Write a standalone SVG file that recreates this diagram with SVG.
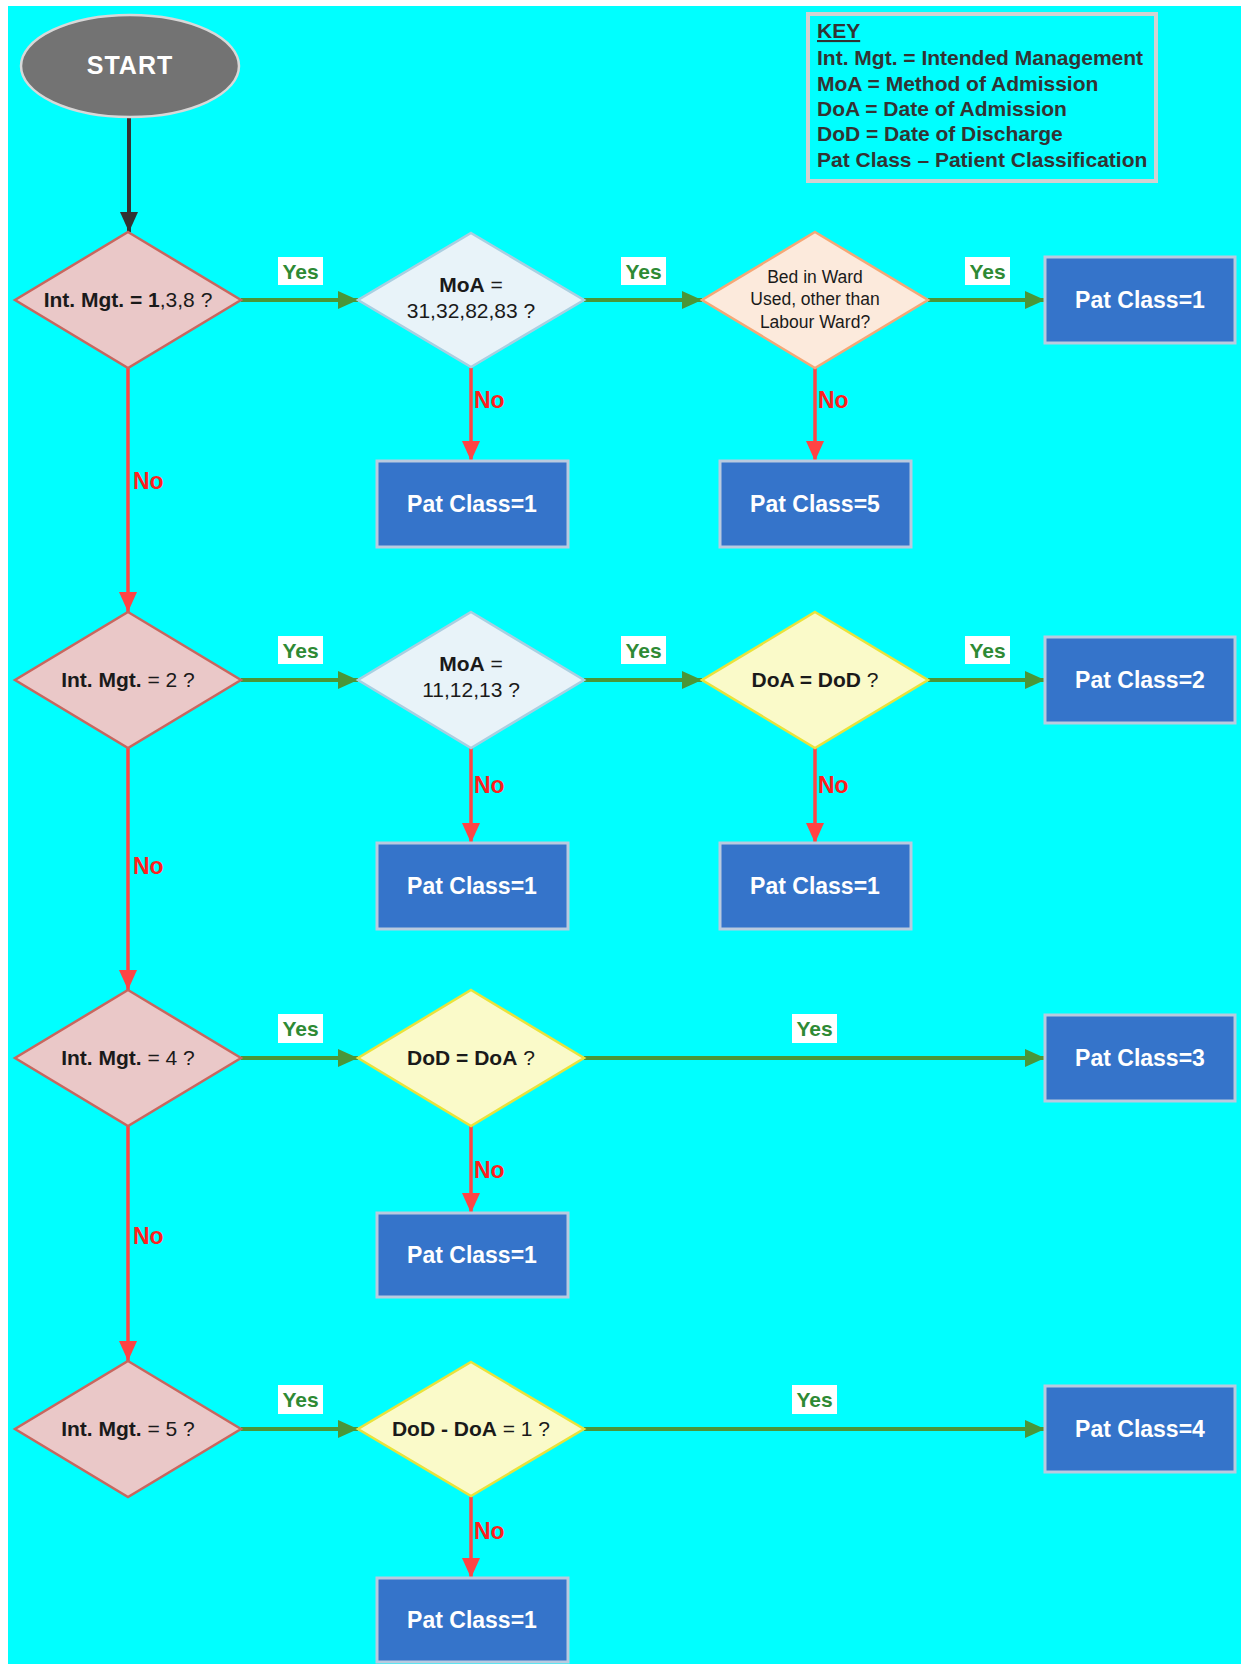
<svg xmlns="http://www.w3.org/2000/svg" width="1241" height="1664" viewBox="0 0 1241 1664">
<defs>
<style>
text{font-family:"Liberation Sans",Arial,sans-serif}
.dt{font-size:21px;fill:#1a1a1a;text-anchor:middle}
.sm{font-size:17.5px}
.b{font-weight:bold}
.box{fill:#3574CA;stroke:#B9CADF;stroke-width:3}
.bt{font-size:23px;font-weight:bold;fill:#ffffff;text-anchor:middle}
.im{fill:#EAC8C8;stroke:#C8675F;stroke-width:2.5}
.moa{fill:#E8F3F9;stroke:#A9CFE1;stroke-width:2.5}
.bed{fill:#FCEADC;stroke:#F4A877;stroke-width:2.5}
.dd{fill:#FAFAC9;stroke:#E9E23C;stroke-width:2.5}
.g{stroke:#4A9639;stroke-width:4;fill:none;marker-end:url(#ag)}
.r{stroke:#FF4444;stroke-width:3.5;fill:none;marker-end:url(#ar)}
.yb{fill:#ffffff}
.yt{font-size:21px;font-weight:bold;fill:#2E8A34;text-anchor:middle}
.nt{font-size:23px;font-weight:bold;fill:#FF1E1E}
.kt{font-size:21px;font-weight:bold;fill:#333333}
</style>
<marker id="ag" markerUnits="userSpaceOnUse" markerWidth="20" markerHeight="18" refX="20" refY="9" orient="auto"><path d="M0,0 L20,9 L0,18 z" fill="#4A9639"/></marker>
<marker id="ar" markerUnits="userSpaceOnUse" markerWidth="20" markerHeight="18" refX="20" refY="9" orient="auto"><path d="M0,0 L20,9 L0,18 z" fill="#FF4444"/></marker>
<marker id="ak" markerUnits="userSpaceOnUse" markerWidth="20" markerHeight="18" refX="20" refY="9" orient="auto"><path d="M0,0 L20,9 L0,18 z" fill="#333333"/></marker>
</defs>
<rect x="0" y="0" width="1241" height="1664" fill="#ffffff"/>
<rect x="8" y="6" width="1233" height="1658" fill="#00FFFF"/>

<g id="key">
<rect x="808" y="14" width="348" height="167" fill="none" stroke="#D2D2D2" stroke-width="4"/>
<text class="kt" x="817" y="38" text-decoration="underline">KEY</text>
<text class="kt" x="817" y="65">Int. Mgt. = Intended Management</text>
<text class="kt" x="817" y="91">MoA = Method of Admission</text>
<text class="kt" x="817" y="116">DoA = Date of Admission</text>
<text class="kt" x="817" y="141">DoD = Date of Discharge</text>
<text class="kt" x="817" y="167">Pat Class – Patient Classification</text>
</g>

<g id="connectors">
<line x1="129" y1="118" x2="129" y2="232" stroke="#333333" stroke-width="4" marker-end="url(#ak)"/>
<!-- row 1 -->
<line class="g" x1="241" y1="300" x2="358" y2="300"/>
<line class="g" x1="584" y1="300" x2="702" y2="300"/>
<line class="g" x1="928" y1="300" x2="1045" y2="300"/>
<line class="r" x1="471" y1="368" x2="471" y2="461"/>
<line class="r" x1="815" y1="368" x2="815" y2="461"/>
<line class="r" x1="128" y1="368" x2="128" y2="612"/>
<!-- row 2 -->
<line class="g" x1="241" y1="680" x2="358" y2="680"/>
<line class="g" x1="584" y1="680" x2="702" y2="680"/>
<line class="g" x1="928" y1="680" x2="1045" y2="680"/>
<line class="r" x1="471" y1="748" x2="471" y2="843"/>
<line class="r" x1="815" y1="748" x2="815" y2="843"/>
<line class="r" x1="128" y1="748" x2="128" y2="990"/>
<!-- row 3 -->
<line class="g" x1="241" y1="1058" x2="358" y2="1058"/>
<line class="g" x1="584" y1="1058" x2="1045" y2="1058"/>
<line class="r" x1="471" y1="1126" x2="471" y2="1213"/>
<line class="r" x1="128" y1="1126" x2="128" y2="1361"/>
<!-- row 4 -->
<line class="g" x1="241" y1="1429" x2="358" y2="1429"/>
<line class="g" x1="584" y1="1429" x2="1045" y2="1429"/>
<line class="r" x1="471" y1="1497" x2="471" y2="1578"/>

<!-- labels -->
<rect class="yb" x="278" y="257" width="45" height="28"/><text class="yt" x="300.5" y="279">Yes</text>
<rect class="yb" x="621" y="257" width="45" height="28"/><text class="yt" x="643.5" y="279">Yes</text>
<rect class="yb" x="965" y="257" width="45" height="28"/><text class="yt" x="987.5" y="279">Yes</text>
<rect class="yb" x="278" y="636" width="45" height="28"/><text class="yt" x="300.5" y="658">Yes</text>
<rect class="yb" x="621" y="636" width="45" height="28"/><text class="yt" x="643.5" y="658">Yes</text>
<rect class="yb" x="965" y="636" width="45" height="28"/><text class="yt" x="987.5" y="658">Yes</text>
<rect class="yb" x="278" y="1014" width="45" height="29"/><text class="yt" x="300.5" y="1036">Yes</text>
<rect class="yb" x="792" y="1014" width="45" height="29"/><text class="yt" x="814.5" y="1036">Yes</text>
<rect class="yb" x="278" y="1385" width="45" height="29"/><text class="yt" x="300.5" y="1407">Yes</text>
<rect class="yb" x="792" y="1385" width="45" height="29"/><text class="yt" x="814.5" y="1407">Yes</text>

<text class="nt" x="133" y="489">No</text>
<text class="nt" x="133" y="874">No</text>
<text class="nt" x="133" y="1244">No</text>
<text class="nt" x="474" y="408">No</text>
<text class="nt" x="818" y="408">No</text>
<text class="nt" x="474" y="793">No</text>
<text class="nt" x="818" y="793">No</text>
<text class="nt" x="474" y="1178">No</text>
<text class="nt" x="474" y="1539">No</text>
</g>

<g id="start">
<ellipse cx="130" cy="66" rx="109" ry="51" fill="#737373" stroke="#D8D8D8" stroke-width="2.5"/>
<text x="130" y="74" font-size="25" font-weight="bold" fill="#ffffff" text-anchor="middle" letter-spacing="1">START</text>
</g>

<g id="d_im1">
<polygon class="im" points="128,232 241,300 128,368 15,300"/>
<text class="dt" x="128" y="307"><tspan class="b">Int. Mgt. = 1</tspan>,3,8 ?</text>
</g>
<g id="d_moa1">
<polygon class="moa" points="471,233 584,300 471,367 358,300"/>
<text class="dt" x="471" y="292"><tspan class="b">MoA</tspan> =</text>
<text class="dt" x="471" y="318">31,32,82,83 ?</text>
</g>
<g id="d_bed">
<polygon class="bed" points="815,232 928,300 815,368 702,300"/>
<text class="dt sm" x="815" y="283">Bed in Ward</text>
<text class="dt sm" x="815" y="305">Used, other than</text>
<text class="dt sm" x="815" y="328">Labour Ward?</text>
</g>
<g id="b_r1a"><rect class="box" x="1045" y="257" width="190" height="86"/><text class="bt" x="1140" y="308">Pat Class=1</text></g>
<g id="b_r1b"><rect class="box" x="377" y="461" width="191" height="86"/><text class="bt" x="472" y="512">Pat Class=1</text></g>
<g id="b_r1c"><rect class="box" x="720" y="461" width="191" height="86"/><text class="bt" x="815" y="512">Pat Class=5</text></g>

<g id="d_im2">
<polygon class="im" points="128,612 241,680 128,748 15,680"/>
<text class="dt" x="128" y="687"><tspan class="b">Int. Mgt.</tspan> = 2 ?</text>
</g>
<g id="d_moa2">
<polygon class="moa" points="471,612 584,680 471,748 358,680"/>
<text class="dt" x="471" y="671"><tspan class="b">MoA</tspan> =</text>
<text class="dt" x="471" y="697">11,12,13 ?</text>
</g>
<g id="d_dd2">
<polygon class="dd" points="815,612 928,680 815,748 702,680"/>
<text class="dt" x="815" y="687"><tspan class="b">DoA = DoD</tspan> ?</text>
</g>
<g id="b_r2a"><rect class="box" x="1045" y="637" width="190" height="86"/><text class="bt" x="1140" y="688">Pat Class=2</text></g>
<g id="b_r2b"><rect class="box" x="377" y="843" width="191" height="86"/><text class="bt" x="472" y="894">Pat Class=1</text></g>
<g id="b_r2c"><rect class="box" x="720" y="843" width="191" height="86"/><text class="bt" x="815" y="894">Pat Class=1</text></g>

<g id="d_im3">
<polygon class="im" points="128,990 241,1058 128,1126 15,1058"/>
<text class="dt" x="128" y="1065"><tspan class="b">Int. Mgt.</tspan> = 4 ?</text>
</g>
<g id="d_dd3">
<polygon class="dd" points="471,990 584,1058 471,1126 358,1058"/>
<text class="dt" x="471" y="1065"><tspan class="b">DoD = DoA</tspan> ?</text>
</g>
<g id="b_r3a"><rect class="box" x="1045" y="1015" width="190" height="86"/><text class="bt" x="1140" y="1066">Pat Class=3</text></g>
<g id="b_r3b"><rect class="box" x="377" y="1213" width="191" height="84"/><text class="bt" x="472" y="1263">Pat Class=1</text></g>

<g id="d_im4">
<polygon class="im" points="128,1361 241,1429 128,1497 15,1429"/>
<text class="dt" x="128" y="1436"><tspan class="b">Int. Mgt.</tspan> = 5 ?</text>
</g>
<g id="d_dd4">
<polygon class="dd" points="471,1362 584,1429 471,1496 358,1429"/>
<text class="dt" x="471" y="1436"><tspan class="b">DoD - DoA</tspan> = 1 ?</text>
</g>
<g id="b_r4a"><rect class="box" x="1045" y="1386" width="190" height="86"/><text class="bt" x="1140" y="1437">Pat Class=4</text></g>
<g id="b_r4b"><rect class="box" x="377" y="1578" width="191" height="84"/><text class="bt" x="472" y="1628">Pat Class=1</text></g>
</svg>
